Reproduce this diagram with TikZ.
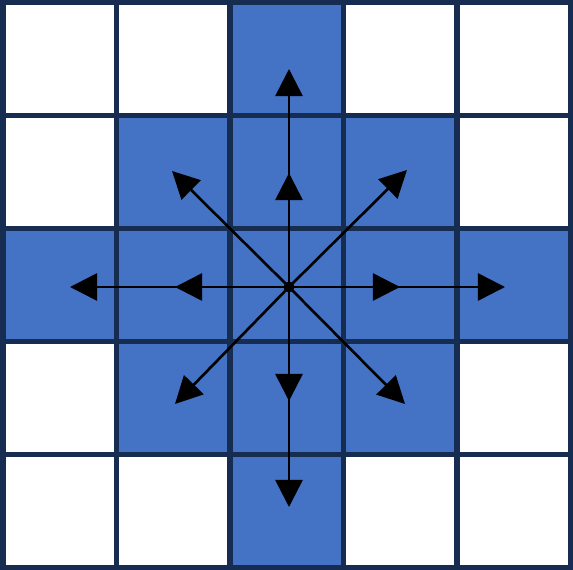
\documentclass[tikz,border=0pt]{standalone}
\usepackage{xcolor}
\usepackage{tikz}
\usetikzlibrary{arrows.meta}
\definecolor{cellblue}{HTML}{4472C4}
\definecolor{gridnavy}{HTML}{172C51}
\tikzstyle{arrow} = [line width=0.75pt, -{Triangle[length=0.27cm, width=0.27cm]}]
\tikzstyle{gridline} = [gridnavy, line width=1.45pt]

\begin{document}
\begin{tikzpicture}[x=0.01cm, y=-0.01cm]
\useasboundingbox (0,0) rectangle (573,570);
% Blue cells
\foreach \c/\r in {2/0, 1/1, 2/1, 3/1, 0/2, 1/2, 2/2, 3/2, 4/2, 1/3, 2/3, 3/3, 2/4}
    \fill[cellblue] (3+113.5*\c, 2.5+113*\r) rectangle ++(113.5,113);
% Grid
\foreach \i in {0,...,5} {
    \draw[gridline] (3+113.5*\i, 0) -- (3+113.5*\i, 570);
    \draw[gridline] (0, 2.5+113*\i) -- (573, 2.5+113*\i);
}
% Centre and targets
\node (o) [circle, fill=black, inner sep=0pt, minimum size=0.11cm] at (289,287) {};
\coordinate (n1) at (289,173);
\coordinate (n2) at (289,69);
\coordinate (s1) at (289,401);
\coordinate (s2) at (289,507);
\coordinate (w1) at (175,287);
\coordinate (w2) at (70,287);
\coordinate (e1) at (400,287);
\coordinate (e2) at (505,287);
\coordinate (nw) at (172,171);
\coordinate (ne) at (407,170);
\coordinate (sw) at (175,404);
\coordinate (se) at (405,404);
% Moves
\draw [arrow] (o.center) -- (n2);
\draw [arrow] (o.center) -- (s2);
\draw [arrow] (o.center) -- (w2);
\draw [arrow] (o.center) -- (e2);
\draw [arrow] (o.center) -- (n1);
\draw [arrow] (o.center) -- (s1);
\draw [arrow] (o.center) -- (w1);
\draw [arrow] (o.center) -- (e1);
\draw [arrow] (o.center) -- (nw);
\draw [arrow] (o.center) -- (ne);
\draw [arrow] (o.center) -- (sw);
\draw [arrow] (o.center) -- (se);
\end{tikzpicture}
\end{document}
